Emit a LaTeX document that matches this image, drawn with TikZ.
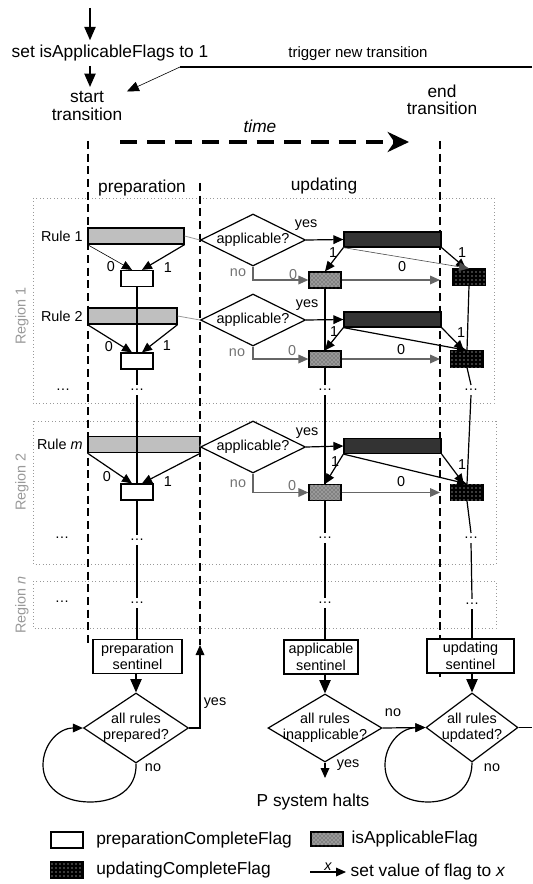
\documentclass[tikz,border=0pt]{standalone}
\usepackage{fontspec}
\setmainfont{Liberation Sans}
\usetikzlibrary{shapes}
\usetikzlibrary{arrows.meta}
\usetikzlibrary{patterns}
\usetikzlibrary{positioning}
\newcommand{\figlarge}{\fontsize{13}{13}\selectfont}
\newcommand{\figmid}{\fontsize{11.25}{13}\selectfont}
\newcommand{\figsmall}{\fontsize{10.8}{12.3}\selectfont}
\tikzstyle{rulebar} = [rectangle, draw=black, line width=0.9pt, fill=black!25,
minimum height=12pt, inner sep=0pt]
\tikzstyle{updbar} = [rulebar, fill=black!80, minimum width=72.75pt, minimum height=11.25pt]
\tikzstyle{prepflag} = [rectangle, draw=black, line width=0.9pt, fill=white,
minimum width=24pt, minimum height=12pt, inner sep=0pt]
\tikzstyle{appflag} = [prepflag, fill=black!40, postaction={pattern=crosshatch dots, pattern color=black!80}]
\tikzstyle{updflag} = [prepflag, fill=black, postaction={pattern=dots, pattern color=white}]
\tikzstyle{decision} = [diamond, draw=black, line width=0.9pt, fill=white, inner sep=0pt,
minimum width=78.75pt, minimum height=39pt]
\tikzstyle{sentinel} = [rectangle, draw=black, line width=0.9pt, fill=white, align=center,
font=\figsmall, inner xsep=2pt, inner ysep=2pt, minimum height=25.5pt]
\tikzstyle{caption} = [font=\figsmall, inner sep=1pt]
\tikzstyle{greycaption} = [caption, text=black!55]
\tikzstyle{ellip} = [font=\figsmall, inner sep=3pt]
\tikzstyle{flow} = [->, line width=0.9pt]
\tikzstyle{bigflow} = [-{Triangle[length=10pt,width=8.5pt]}, line width=0.9pt]
\tikzstyle{thinflow} = [->, line width=0.45pt]
\tikzstyle{noflow} = [->, line width=0.9pt, draw=black!60]
\tikzstyle{phase} = [line width=0.9pt, dash pattern=on 6pt off 3.5pt]
\tikzstyle{region} = [draw=black!40, line width=0.6pt, dotted]
\tikzstyle{regionlabel} = [rotate=90, font=\figsmall, text=black!40]
\tikzstyle{every label} += [font=\figsmall, align=center]
\tikzset{>={Triangle[length=7.5pt,width=6.5pt]}}
\begin{document}
\begin{tikzpicture}[x=0.75pt, y=-0.75pt]
  \useasboundingbox (0,0) rectangle (532,884);

  % regions
  \draw[region] (33,198) rectangle (494,403);
  \draw[region] (33,421) rectangle (496,564);
  \draw[region] (33,581) rectangle (496,628);
  \node[regionlabel] (reg1) at (22,316) {Region 1};
  \node[regionlabel] (reg2) at (22,482) {Region 2};
  \node[regionlabel] (regn) at (22,605) {Region \textit{n}};

  % phase borders
  \coordinate (p0t) at (88,141);
  \coordinate (p0b) at (88,643);
  \coordinate (p1t) at (200,183);
  \coordinate (p1b) at (200,645);
  \coordinate (p2t) at (440,141);
  \coordinate (p2b) at (440,677);
  \draw[phase] (p0t) -- (p0b);
  \draw[phase] (p1t) -- (p1b);
  \draw[phase] (p2t) -- (p2b);

  % transition
  \coordinate (entry) at (90,8);
  \node[font=\figlarge] (setflags) at (110,53) {set isApplicableFlags to 1};
  \node[font=\figlarge, align=center] (starttr) at (87,106) {start\\transition};
  \node[font=\figlarge, align=center] (endtr) at (442,100) {end\\transition};
  \node[font=\figmid] (trigger) at (358,54) {trigger new transition};
  \coordinate (trigR) at (532,67);
  \coordinate (trigL) at (180,67);
  \draw[bigflow] (entry) -- (setflags.north -| entry);
  \draw[bigflow] (setflags.south -| entry) -- (starttr.north -| entry);
  \draw[line width=0.9pt] (trigR) -- (trigL);
  \draw[thinflow, -{Triangle[length=9pt,width=7.5pt]}] (trigL) -- (starttr.20);

  \node[font=\figlarge\itshape] (time) at (260,126) {time};
  \coordinate (timeL) at (120,142);
  \coordinate (timeR) at (409,142);
  \draw[line width=3pt, dash pattern=on 13pt off 7.5pt,
    -{Stealth[length=16pt,width=15pt,inset=5pt]}] (timeL) -- (timeR);

  \node[font=\figlarge] (hprep) at (142,188) {preparation};
  \node[font=\figlarge] (hupd) at (324,186) {updating};

  % rules
  \node[rulebar, minimum width=72pt, label=left:Rule 1] (bar1) at (136,236) {};
  \node[rulebar, minimum width=66.75pt, label=left:Rule 2] (bar2) at (132.5,316) {};
  \node[rulebar, minimum width=84pt, label=left:{Rule \textit{m}}] (bar3) at (144,444.5) {};
  \node[decision, label=center:applicable?] (ask1) at (253,240) {};
  \node[decision, label=center:applicable?] (ask2) at (253,320) {};
  \node[decision, label=center:applicable?] (ask3) at (253,447) {};
  \node[updbar] (upd1) at (392.5,239.5) {};
  \node[updbar] (upd2) at (392.5,319.5) {};
  \node[updbar] (upd3) at (392.5,446) {};

  % flags
  \node[prepflag] (fP1) at (137,278.5) {};
  \node[prepflag] (fP2) at (137,361) {};
  \node[prepflag] (fP3) at (137,492) {};
  \node[appflag] (fA1) at (325,280) {};
  \node[appflag] (fA2) at (325,359) {};
  \node[appflag] (fA3) at (325,492.5) {};
  \node[updflag] (fU1) at (469,277) {};
  \node[updflag] (fU2) at (467,359) {};
  \node[updflag] (fU3) at (467,492.5) {};
  \coordinate (e1) at (440,280);
  \coordinate (e2) at (440,359);
  \coordinate (e3) at (440,492.5);

  \foreach \nm/\x/\y in {dL1/63/390, dP1/137/390, dA1/325/390, dU1/471/390,
    dL2/62/538, dP2/137/540, dA2/325/538, dU2/471/538,
    dL3/62/602, dP3/137/603, dA3/325/603, dU3/472/604}
    \node[ellip] (\nm) at (\x,\y) {\dots};

  % sentinels
  \node[sentinel, minimum width=66.75pt] (sP) at (137.5,656.5) {preparation\\sentinel};
  \node[sentinel, minimum width=55.5pt] (sA) at (321,657) {applicable\\sentinel};
  \node[sentinel, minimum width=65.25pt] (sU) at (470.5,656) {updating\\sentinel};
  \node[decision, minimum height=52.5pt, label={center:all rules\\prepared?}] (askP) at (136,728) {};
  \node[decision, minimum width=85.5pt, minimum height=51pt, label={center:all rules\\inapplicable?}] (askA) at (325,728) {};
  \node[decision, minimum width=69pt, minimum height=51.75pt, label={center:all rules\\updated?}] (askU) at (472,727.5) {};
  \node[font=\figlarge] (halts) at (313,802) {P system halts};
  \coordinate (haltTip) at (325,778);
  \coordinate (updOut) at (532,727.5);

  % connectors
  \foreach \i in {1,2,3} {
    \draw[flow] (bar\i.south east) -- (fP\i.60);
    \draw[black!40, line width=0.6pt] (bar\i.east) -- (ask\i.west);
    \draw[flow] (ask\i.east) -- (upd\i.west);
    \draw[noflow] (ask\i.south) |- (fA\i.west);
    \draw[flow] (upd\i.south west) -- (fA\i.north);
    \draw[flow] (upd\i.south east) -- (fU\i.110);
    \draw[noflow] (fA\i.east) -- (e\i);
  }
  \draw[thinflow] (bar1.south west) -- (fP1.120);
  \draw[flow] (bar2.south west) -- (fP2.120);
  \draw[flow] (bar3.south west) -- (fP3.120);
  \draw[thinflow, draw=black!70] (upd1.south west) -- (fU1.north);
  \draw[flow] (upd2.south west) -- (fU2.north);
  \draw[flow] (upd3.south west) -- (fU3.north);

  \foreach \c in {P,A,U} {
    \draw[line width=0.9pt] (f\c1.south) -- (f\c2.north);
    \draw[line width=0.9pt] (f\c2.south) -- (d\c1.north);
    \draw[line width=0.9pt] (d\c1.south) -- (f\c3.north);
    \draw[line width=0.9pt] (f\c3.south) -- (d\c2.north);
    \draw[line width=0.9pt] (d\c2.south) -- (d\c3.north);
    \draw[line width=0.9pt] (d\c3.south) -- (d\c3.south |- s\c.north);
    \draw[bigflow] (s\c.south -| ask\c) -- (ask\c.north);
  }

  \draw[flow] (askP.east) -| (p1b);
  \draw[flow] (askP.south) .. controls (137,790) and (115,802) .. (90,802)
    .. controls (60,802) and (43,785) .. (43,765)
    .. controls (43,745) and (58,728) .. (askP.west);
  \draw[flow] (askA.south) -- (haltTip);
  \draw[flow] (askA.east) -- (askU.west);
  \draw[flow] (askU.south) .. controls (472,790) and (450,802) .. (428,802)
    .. controls (400,802) and (385,785) .. (385,765)
    .. controls (385,745) and (400,728) .. (askU.west);
  \draw[line width=0.9pt] (askU.east) -- (updOut);

  % values
  \foreach \x/\y/\lab [count=\n] in {111/267/0, 168/268/1, 109/347/0, 167/346/1,
    107/477/0, 168/482/1, 306/225/yes, 333/253/1, 462/253/1, 402/267/0,
    307/305/yes, 334/332/1, 461/333/1, 401/350/0, 307/433/yes, 335/462/1,
    462/465/1, 401/482/0, 215/703/yes, 153/768/no, 393/713/no, 348/765/yes, 492/768/no}
    \node[caption] (val\n) at (\x,\y) {\lab};
  \foreach \x/\y/\lab [count=\n] in {238/273/no, 293/275/0, 237/353/no, 292/351/0,
    238/484/no, 292/486/0}
    \node[greycaption] (grey\n) at (\x,\y) {\lab};

  % legend
  \node[prepflag] (lgPrep) at (67,840) {};
  \node[font=\figlarge, right=6pt of lgPrep] (lgPrepTxt) {preparationCompleteFlag};
  \node[appflag, minimum height=10.5pt] (lgApp) at (327,839) {};
  \node[font=\figlarge, right=2.5pt of lgApp] (lgAppTxt) {isApplicableFlag};
  \node[updflag, minimum height=13pt] (lgUpd) at (67,870) {};
  \node[font=\figlarge, right=6pt of lgUpd] (lgUpdTxt) {updatingCompleteFlag};
  \coordinate (lgA) at (310,872);
  \coordinate (lgB) at (346,872);
  \draw[flow] (lgA) -- node[above, font=\figsmall\itshape, inner sep=1pt] (lgX) {x} (lgB);
  \node[font=\figlarge, right=0pt of lgB] (lgArrTxt) {set value of flag to \textit{x}};
\end{tikzpicture}
\end{document}
